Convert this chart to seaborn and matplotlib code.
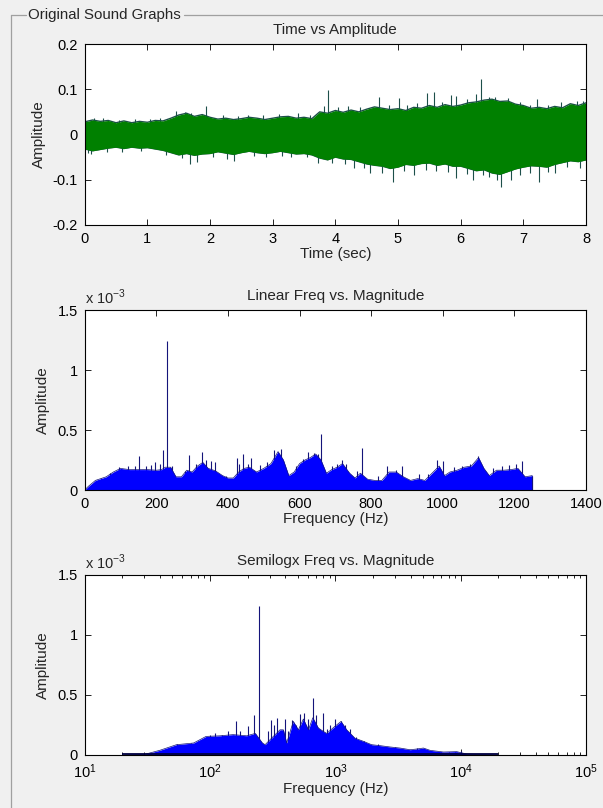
import matplotlib
matplotlib.use("Agg")
import matplotlib.pyplot as plt
import seaborn as sns
from matplotlib.lines import Line2D
from matplotlib.ticker import FuncFormatter, LogLocator, NullFormatter

# ---- Time vs Amplitude: envelope of the waveform ----
time_sec = [0, 0.125, 0.25, 0.375, 0.5, 0.625, 0.75, 0.875, 1.0, 1.125, 1.25, 1.375,
            1.5, 1.625, 1.75, 1.875, 2.0, 2.125, 2.25, 2.375, 2.5, 2.625, 2.75, 2.875,
            3.0, 3.125, 3.25, 3.375, 3.5, 3.625, 3.75, 3.875, 4.0, 4.125, 4.25, 4.375,
            4.5, 4.625, 4.75, 4.875, 5.0, 5.125, 5.25, 5.375, 5.5, 5.625, 5.75, 5.875,
            6.0, 6.125, 6.25, 6.375, 6.5, 6.625, 6.75, 6.875, 7.0, 7.125, 7.25, 7.375,
            7.5, 7.625, 7.75, 7.875, 8.0]
amp_upper = [0.028, 0.032, 0.029, 0.031, 0.026, 0.030, 0.026, 0.029, 0.027, 0.031,
             0.030, 0.036, 0.043, 0.047, 0.040, 0.044, 0.038, 0.034, 0.036, 0.033,
             0.035, 0.038, 0.036, 0.033, 0.036, 0.039, 0.040, 0.036, 0.038, 0.035,
             0.050, 0.047, 0.053, 0.049, 0.054, 0.050, 0.056, 0.061, 0.058, 0.055,
             0.057, 0.053, 0.060, 0.058, 0.064, 0.060, 0.066, 0.062, 0.065, 0.070,
             0.072, 0.076, 0.078, 0.073, 0.074, 0.067, 0.064, 0.058, 0.060, 0.057,
             0.062, 0.059, 0.068, 0.064, 0.070]
amp_lower = [-0.032, -0.036, -0.033, -0.030, -0.028, -0.031, -0.028, -0.030, -0.029,
             -0.032, -0.035, -0.040, -0.045, -0.042, -0.046, -0.043, -0.042, -0.038,
             -0.041, -0.044, -0.040, -0.037, -0.040, -0.042, -0.040, -0.037, -0.040,
             -0.043, -0.042, -0.045, -0.052, -0.056, -0.050, -0.054, -0.055, -0.060,
             -0.065, -0.068, -0.070, -0.075, -0.072, -0.066, -0.068, -0.064, -0.063,
             -0.068, -0.065, -0.070, -0.070, -0.075, -0.080, -0.078, -0.085, -0.088,
             -0.082, -0.076, -0.072, -0.069, -0.070, -0.072, -0.066, -0.062, -0.058,
             -0.060, -0.056]
spike_up_t = [0.15, 0.3, 0.55, 0.8, 1.05, 1.2, 1.45, 1.6, 1.7, 1.93, 2.2, 2.45, 2.6,
              2.85, 3.1, 3.4, 3.6, 3.82, 3.88, 4.05, 4.2, 4.4, 4.7, 4.85, 5.02, 5.15,
              5.3, 5.46, 5.58, 5.7, 5.85, 5.93, 6.1, 6.25, 6.33, 6.45, 6.55, 6.75, 6.95,
              7.1, 7.22, 7.4, 7.6, 7.85, 7.95]
spike_up_a = [0.036, 0.036, 0.033, 0.034, 0.034, 0.036, 0.052, 0.05, 0.047, 0.064,
              0.042, 0.041, 0.044, 0.042, 0.045, 0.048, 0.043, 0.062, 0.099, 0.06,
              0.062, 0.06, 0.082, 0.066, 0.08, 0.065, 0.07, 0.091, 0.093, 0.072, 0.087,
              0.085, 0.078, 0.09, 0.122, 0.083, 0.082, 0.08, 0.072, 0.066, 0.078, 0.066,
              0.072, 0.075, 0.074]
spike_dn_t = [0.05, 0.1, 0.35, 0.6, 0.9, 1.3, 1.55, 1.68, 1.8, 2.05, 2.27, 2.38, 2.7,
              2.9, 3.15, 3.3, 3.55, 3.72, 3.95, 4.15, 4.3, 4.45, 4.55, 4.75, 4.92, 5.1,
              5.25, 5.45, 5.6, 5.8, 5.93, 6.1, 6.2, 6.35, 6.45, 6.58, 6.65, 6.8, 6.95,
              7.1, 7.25, 7.4, 7.5, 7.7, 7.9]
spike_dn_a = [-0.04, -0.042, -0.038, -0.038, -0.036, -0.045, -0.052, -0.065, -0.06,
              -0.05, -0.055, -0.058, -0.048, -0.05, -0.047, -0.05, -0.05, -0.063,
              -0.062, -0.066, -0.075, -0.074, -0.085, -0.085, -0.104, -0.08, -0.09,
              -0.078, -0.08, -0.082, -0.096, -0.088, -0.1, -0.09, -0.095, -0.1, -0.115,
              -0.1, -0.09, -0.085, -0.106, -0.082, -0.085, -0.072, -0.075]

# ---- Linear Freq vs. Magnitude (units of 1e-3) ----
lin_freq = [0, 10, 30, 60, 80, 100, 125, 150, 175, 200, 215, 225, 240, 255, 270, 285,
            300, 315, 330, 345, 365, 385, 400, 415, 430, 445, 460, 480, 500, 520, 540,
            555, 570, 585, 600, 615, 630, 645, 660, 675, 690, 705, 720, 740, 755, 770,
            790, 810, 830, 850, 870, 890, 910, 930, 950, 970, 990, 1005, 1020, 1040,
            1060, 1080, 1100, 1115, 1130, 1150, 1170, 1190, 1210, 1230, 1250]
lin_mag = [0, 0.03, 0.08, 0.11, 0.15, 0.18, 0.17, 0.17, 0.17, 0.165, 0.17, 0.19, 0.19,
           0.11, 0.11, 0.165, 0.15, 0.2, 0.23, 0.18, 0.16, 0.12, 0.1, 0.1, 0.15, 0.18,
           0.19, 0.15, 0.18, 0.22, 0.32, 0.25, 0.12, 0.15, 0.22, 0.25, 0.27, 0.3, 0.25,
           0.14, 0.17, 0.19, 0.22, 0.14, 0.1, 0.14, 0.09, 0.08, 0.08, 0.15, 0.15, 0.11,
           0.08, 0.095, 0.08, 0.14, 0.2, 0.12, 0.15, 0.165, 0.19, 0.2, 0.27, 0.18, 0.12,
           0.165, 0.165, 0.17, 0.18, 0.11, 0.12]
lin_peak_f = [45, 70, 95, 120, 140, 153, 170, 185, 197, 210, 218, 231, 245, 280, 292,
              310, 327, 340, 352, 364, 395, 424, 432, 442, 455, 464, 490, 510, 530, 538,
              548, 590, 610, 625, 632, 640, 652, 659, 690, 705, 718, 730, 760, 775, 820,
              844, 870, 886, 935, 960, 985, 1000, 1030, 1055, 1075, 1098, 1140, 1165,
              1185, 1205, 1220, 1248]
lin_peak_m = [0.1, 0.14, 0.19, 0.2, 0.2, 0.28, 0.2, 0.21, 0.23, 0.22, 0.33, 1.24, 0.2,
              0.16, 0.29, 0.22, 0.32, 0.25, 0.24, 0.23, 0.12, 0.27, 0.22, 0.3, 0.22,
              0.27, 0.21, 0.23, 0.33, 0.3, 0.34, 0.2, 0.26, 0.32, 0.27, 0.31, 0.3, 0.47,
              0.2, 0.22, 0.25, 0.22, 0.16, 0.35, 0.12, 0.2, 0.17, 0.2, 0.13, 0.13, 0.25,
              0.24, 0.19, 0.2, 0.22, 0.28, 0.18, 0.2, 0.21, 0.22, 0.24, 0.12]

# ---- Semilogx Freq vs. Magnitude (units of 1e-3) ----
log_freq = [20, 30, 40, 54, 74, 93, 120, 153, 196, 230, 262, 275, 320, 362, 385, 409,
            462, 507, 556, 610, 661, 732, 793, 853, 995, 1111, 1232, 1435, 1665, 1947,
            2274, 2734, 3283, 3946, 4465, 5040, 5700, 7280, 9300, 11200, 14300, 20000]
log_mag = [0, 0.005, 0.04, 0.086, 0.1, 0.155, 0.16, 0.17, 0.16, 0.18, 0.1, 0.086, 0.155,
           0.21, 0.21, 0.1, 0.28, 0.21, 0.3, 0.21, 0.31, 0.225, 0.2, 0.18, 0.24, 0.28,
           0.21, 0.14, 0.115, 0.086, 0.078, 0.067, 0.058, 0.044, 0.05, 0.058, 0.039,
           0.025, 0.028, 0.008, 0.004, 0.0]
log_peak_f = [45, 55, 62, 70, 80, 88, 100, 110, 125, 140, 160, 175, 200, 225, 248, 290,
              305, 322, 340, 365, 395, 420, 450, 485, 520, 560, 600, 661, 700, 793, 850,
              900, 960, 1000, 1050, 1100, 1200, 1300, 1450, 1700, 2200, 3000, 4500,
              10000]
log_peak_m = [0.05, 0.09, 0.07, 0.1, 0.12, 0.1, 0.17, 0.18, 0.17, 0.2, 0.28, 0.2, 0.24,
              0.33, 1.24, 0.2, 0.29, 0.25, 0.31, 0.2, 0.3, 0.2, 0.29, 0.25, 0.34, 0.35,
              0.3, 0.475, 0.33, 0.35, 0.22, 0.25, 0.2, 0.3, 0.25, 0.28, 0.25, 0.22, 0.15,
              0.12, 0.09, 0.07, 0.06, 0.03]

sns.set_style("ticks")
plt.rcParams['font.family'] = ['Liberation Sans', 'DejaVu Sans']
plt.rcParams['mathtext.fontset'] = 'custom'
plt.rcParams['mathtext.rm'] = 'Liberation Sans'

W, H = 603, 808
bg = "#f0f0f0"
green = "#008000"
green_edge = "#1d4f4a"
blue = "#0000ff"
blue_edge = "#14147a"
TICK_FS = 10.5
LABEL_FS = 11

fig = plt.figure(figsize=(W / 100, H / 100), dpi=100, facecolor=bg)


def px_axes(top, bottom, left=84.7, right=586):
    return fig.add_axes([left / W, 1 - bottom / H, (right - left) / W, (bottom - top) / H])


def matlab_style(ax):
    ax.set_facecolor("white")
    for s in ax.spines.values():
        s.set_linewidth(0.8)
        s.set_color("black")
        s.set_zorder(5)
    ax.tick_params(which='both', direction='in', top=True, right=True,
                   width=0.6, labelsize=TICK_FS, pad=5, colors='black')
    ax.tick_params(which='major', length=4)
    ax.tick_params(which='minor', length=2.5)


fmt = FuncFormatter(lambda v, p: "%g" % round(v, 4))

# panel frame
fig.add_artist(Line2D([11 / W, 11 / W], [1 - 15 / H, 0], color="#a0a0a0", lw=0.9))
fig.add_artist(Line2D([11 / W, 26 / W], [1 - 15 / H, 1 - 15 / H], color="#a0a0a0", lw=0.9))
fig.add_artist(Line2D([184 / W, 1], [1 - 15 / H, 1 - 15 / H], color="#a0a0a0", lw=0.9))
fig.text(28 / W, 1 - 15 / H, "Original Sound Graphs", fontsize=10.8, ha='left', va='center')

# ---- top: time signal ----
ax1 = px_axes(44, 225)
ax1.vlines(spike_up_t, 0, spike_up_a, color=green_edge, lw=0.8, zorder=1)
ax1.vlines(spike_dn_t, 0, spike_dn_a, color=green_edge, lw=0.8, zorder=1)
sns.lineplot(x=time_sec, y=amp_upper, color=green_edge, lw=1.0, ax=ax1, zorder=1)
sns.lineplot(x=time_sec, y=amp_lower, color=green_edge, lw=1.0, ax=ax1, zorder=1)
ax1.fill_between(time_sec, amp_lower, amp_upper, color=green, lw=0, zorder=2)
ax1.set_xlim(0, 8)
ax1.set_ylim(-0.2, 0.2)
ax1.set_xticks(range(0, 9))
ax1.set_yticks([-0.2, -0.1, 0, 0.1, 0.2])
ax1.yaxis.set_major_formatter(fmt)
matlab_style(ax1)
ax1.set_title("Time vs Amplitude", fontsize=LABEL_FS, pad=7)
ax1.set_xlabel("Time (sec)", fontsize=LABEL_FS, labelpad=1)
ax1.set_ylabel("Amplitude", fontsize=LABEL_FS, labelpad=5)

# ---- middle: linear spectrum ----
ax2 = px_axes(310, 490)
ax2.vlines(lin_peak_f, 0, lin_peak_m, color=blue_edge, lw=0.8, zorder=1)
ax2.fill_between(lin_freq, 0, lin_mag, color=blue, lw=0, zorder=2)
sns.lineplot(x=lin_freq, y=lin_mag, color=blue_edge, lw=0.5, ax=ax2, zorder=2)
ax2.vlines([lin_freq[-1]], 0, [lin_mag[-1]], color=blue_edge, lw=0.8, zorder=2)
ax2.set_xlim(0, 1400)
ax2.set_ylim(0, 1.5)
ax2.set_xticks(range(0, 1401, 200))
ax2.set_yticks([0, 0.5, 1, 1.5])
ax2.yaxis.set_major_formatter(fmt)
matlab_style(ax2)
ax2.set_title("Linear Freq vs. Magnitude", fontsize=LABEL_FS, pad=7)
ax2.set_xlabel("Frequency (Hz)", fontsize=LABEL_FS, labelpad=1)
ax2.set_ylabel("Amplitude", fontsize=LABEL_FS, labelpad=5)
ax2.text(0, 1.015, r"x 10$^{-3}$", transform=ax2.transAxes, ha='left', va='bottom',
         fontsize=TICK_FS)

# ---- bottom: semilogx spectrum ----
ax3 = px_axes(575, 755)
ax3.set_xscale('log')
ax3.vlines(log_peak_f, 0, log_peak_m, color=blue_edge, lw=0.8, zorder=1)
ax3.fill_between(log_freq, 0, log_mag, color=blue, lw=0, zorder=2)
sns.lineplot(x=log_freq, y=log_mag, color=blue_edge, lw=0.5, ax=ax3, zorder=2)
ax3.hlines(0.006, log_freq[0], log_freq[-1], color="#000040", lw=1.3, zorder=3)
ax3.set_xlim(10, 1e5)
ax3.set_ylim(0, 1.5)
ax3.xaxis.set_major_locator(LogLocator(base=10, numticks=10))
ax3.xaxis.set_minor_locator(LogLocator(base=10, subs=range(2, 10), numticks=20))
ax3.xaxis.set_minor_formatter(NullFormatter())
ax3.set_yticks([0, 0.5, 1, 1.5])
ax3.yaxis.set_major_formatter(fmt)
matlab_style(ax3)
ax3.set_title("Semilogx Freq vs. Magnitude", fontsize=LABEL_FS, pad=7)
ax3.set_xlabel("Frequency (Hz)", fontsize=LABEL_FS, labelpad=1)
ax3.set_ylabel("Amplitude", fontsize=LABEL_FS, labelpad=5)
ax3.text(0, 1.015, r"x 10$^{-3}$", transform=ax3.transAxes, ha='left', va='bottom',
         fontsize=TICK_FS)

fig.savefig("out.png", dpi=100, facecolor=bg)
